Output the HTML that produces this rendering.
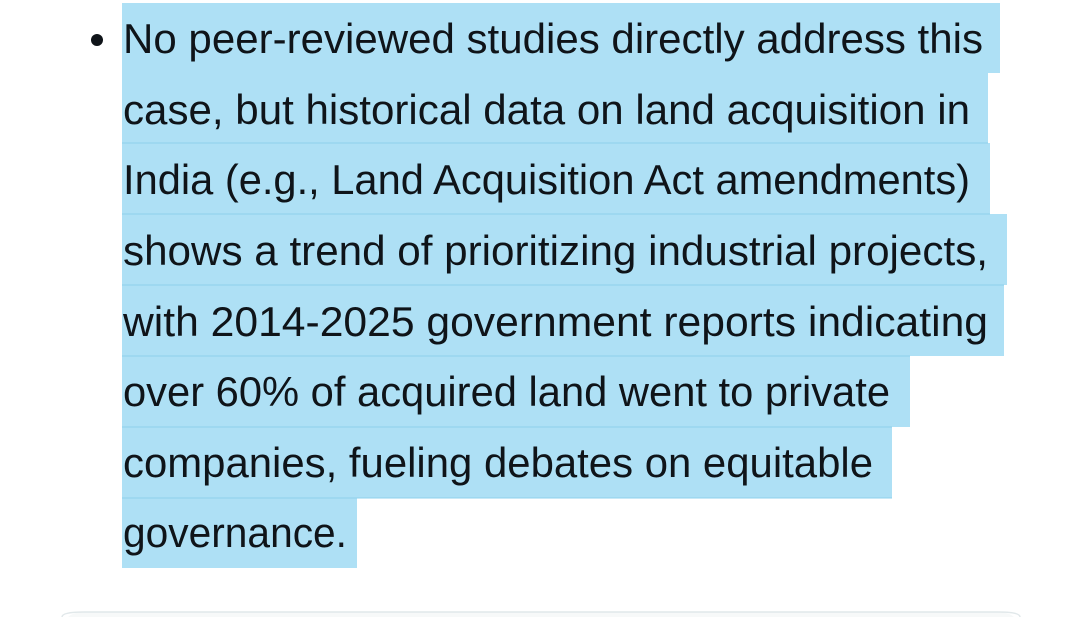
<!DOCTYPE html>
<html><head><style>
html,body{margin:0;padding:0;background:#fff;width:1080px;height:617px;overflow:hidden}
</style></head><body>
<svg width="1080" height="617" xmlns="http://www.w3.org/2000/svg" style="display:block">
<g fill="#aee0f5">
<rect x="122" y="3" width="878" height="70"/>
<rect x="122" y="73" width="866" height="70"/>
<rect x="122" y="143" width="868" height="71"/>
<rect x="122" y="214" width="885" height="71"/>
<rect x="122" y="285" width="882" height="71"/>
<rect x="122" y="356" width="788" height="71"/>
<rect x="122" y="427" width="770" height="71"/>
<rect x="122" y="498" width="235" height="70"/>
</g>
<g stroke="#8fd0ec" stroke-width="1">
<line x1="122" y1="143" x2="988" y2="143"/>
<line x1="122" y1="214" x2="990" y2="214"/>
<line x1="122" y1="285" x2="1004" y2="285"/>
<line x1="122" y1="356" x2="910" y2="356"/>
<line x1="122" y1="427" x2="892" y2="427"/>
<line x1="122" y1="498" x2="892" y2="498"/>
</g>
<circle cx="97" cy="40" r="6" fill="#0f1419"/>
<g font-family="Liberation Sans, sans-serif" font-size="42" fill="#0f1419">
<text x="123" y="53" textLength="860" lengthAdjust="spacingAndGlyphs">No peer-reviewed studies directly address this</text>
<text x="123" y="124" textLength="847" lengthAdjust="spacingAndGlyphs">case, but historical data on land acquisition in</text>
<text x="123" y="194" textLength="847" lengthAdjust="spacingAndGlyphs">India (e.g., Land Acquisition Act amendments)</text>
<text x="123" y="265" textLength="865" lengthAdjust="spacingAndGlyphs">shows a trend of prioritizing industrial projects,</text>
<text x="123" y="336" textLength="865" lengthAdjust="spacingAndGlyphs">with 2014-2025 government reports indicating</text>
<text x="123" y="406" textLength="767" lengthAdjust="spacingAndGlyphs">over 60% of acquired land went to private</text>
<text x="123" y="477" textLength="750" lengthAdjust="spacingAndGlyphs">companies, fueling debates on equitable</text>
<text x="123" y="547" textLength="224" lengthAdjust="spacingAndGlyphs">governance.</text>
</g>
<path d="M62 617 L62 634 Q62 612 84 612 L998 612 Q1020 612 1020 634 L1020 617 Z" fill="#f7f9f9"/>
<path d="M62 617 Q62 612 84 612 L998 612 Q1020 612 1020 617" fill="none" stroke="#e1e8ea" stroke-width="1.5"/>
</svg>
</body></html>
